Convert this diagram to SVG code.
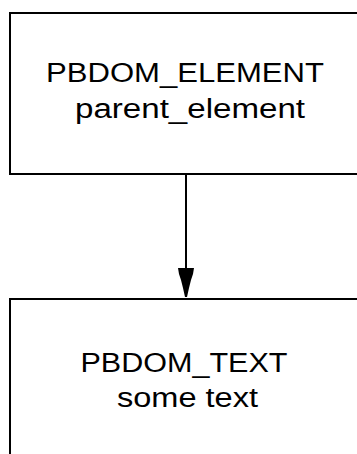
<svg xmlns="http://www.w3.org/2000/svg" width="357" height="454" viewBox="0 0 357 454">
  <defs>
    <style>
      .box { fill: #ffffff; stroke: #000000; stroke-width: 2; }
      .lbl { font-family: "Liberation Sans", Arial, sans-serif; font-size: 27px; fill: #000000; text-anchor: middle; }
      .conn { stroke: #000000; stroke-width: 2; fill: none; }
    </style>
    <marker id="arrow" markerUnits="userSpaceOnUse" markerWidth="30" markerHeight="20" refX="29" refY="8" orient="auto" viewBox="0 0 30 20">
      <path d="M0,0 L6,1 L12,3 L20,5 L29,7 L29,9 L20,11 L12,13 L6,15 L0,16 Z" fill="#000000"/>
    </marker>
  </defs>
  <rect width="357" height="454" fill="#ffffff"/>
  <g id="node-parent">
    <rect class="box" x="10" y="13" width="360" height="161"/>
    <text class="lbl" x="185" y="82" textLength="278" lengthAdjust="spacingAndGlyphs">PBDOM_ELEMENT</text>
    <text class="lbl" x="190" y="118" textLength="230" lengthAdjust="spacingAndGlyphs">parent_element</text>
  </g>
  <g id="node-text">
    <rect class="box" x="10" y="299" width="360" height="170"/>
    <text class="lbl" x="184" y="372" textLength="207" lengthAdjust="spacingAndGlyphs">PBDOM_TEXT</text>
    <text class="lbl" x="187.5" y="407" textLength="141" lengthAdjust="spacingAndGlyphs">some text</text>
  </g>
  <g id="connectors">
    <line class="conn" x1="186" y1="174" x2="186" y2="297" marker-end="url(#arrow)"/>
  </g>
</svg>
